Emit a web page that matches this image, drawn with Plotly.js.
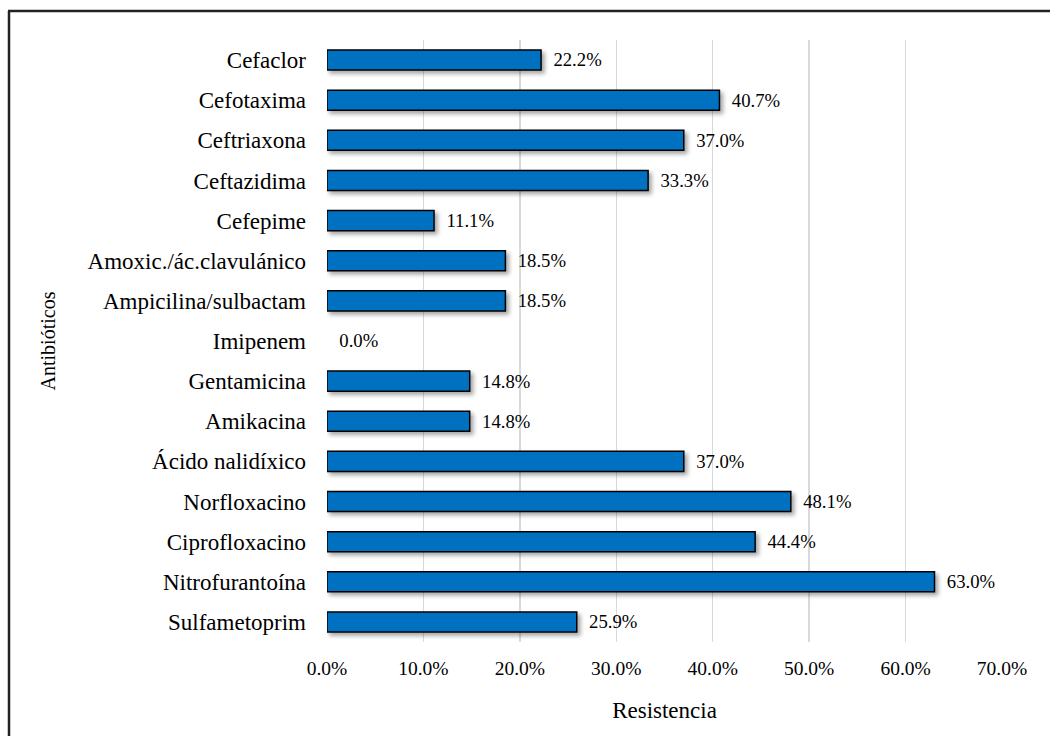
<!DOCTYPE html>
<html>
<head>
<meta charset="utf-8">
<script src="https://cdn.plot.ly/plotly-3.0.1.min.js"></script>
<style>
  html, body { margin: 0; padding: 0; background: #ffffff; }
  #chart { width: 1050px; height: 736px; }
  /* soft drop shadow under each bar */
  #chart .bars path { filter: drop-shadow(3px 3px 2px rgba(0,0,0,0.35)); }
</style>
</head>
<body>
<div id="chart"></div>
<script>
// Antibiotic resistance (share of isolates)
const antibiotics = [
  'Cefaclor', 'Cefotaxima', 'Ceftriaxona', 'Ceftazidima', 'Cefepime',
  'Amoxic./ác.clavulánico', 'Ampicilina/sulbactam', 'Imipenem',
  'Gentamicina', 'Amikacina', 'Ácido nalidíxico', 'Norfloxacino',
  'Ciprofloxacino', 'Nitrofurantoína', 'Sulfametoprim'
];
const resistance = [
  0.222, 0.407, 0.370, 0.333, 0.111,
  0.185, 0.185, 0.000,
  0.148, 0.148, 0.370, 0.481,
  0.444, 0.630, 0.259
];
const xTicks = [0, 0.1, 0.2, 0.3, 0.4, 0.5, 0.6, 0.7];

const W = 1050, H = 736;
const margin = { l: 327, r: 48, t: 40, b: 94, pad: 0 };
const plotW = W - margin.l - margin.r;
const plotH = H - margin.t - margin.b;
// frame line positions in pixels, converted to paper units
const px = x => (x - margin.l) / plotW;
const py = y => 1 - (y - margin.t) / plotH;

const serif = 'Liberation Serif';

const trace = {
  type: 'bar',
  orientation: 'h',
  y: antibiotics,
  x: resistance,
  width: 0.5,
  marker: {
    color: '#0070C0',
    // no outline on empty bars
    line: { color: '#000000', width: resistance.map(v => (v > 0 ? 1.5 : 0)) }
  },
  texttemplate: '\u00a0\u00a0%{x:.1%}',
  textposition: 'outside',
  cliponaxis: false,
  textfont: { family: serif, size: 20.5, color: '#000000' },
  hoverinfo: 'skip'
};

const layout = {
  width: W,
  height: H,
  margin: margin,
  paper_bgcolor: '#ffffff',
  plot_bgcolor: '#ffffff',
  showlegend: false,
  font: { family: serif, color: '#000000' },
  xaxis: {
    range: [0, 0.7],
    tickvals: xTicks,
    tickformat: '.1%',
    showgrid: true,
    gridcolor: '#d9d9d9',
    gridwidth: 1.5,
    zeroline: false,
    showline: false,
    ticks: '',
    tickfont: { family: serif, size: 19.5, color: '#000000' },
    ticklabelstandoff: 12,
    title: { text: 'Resistencia', font: { family: serif, size: 23, color: '#000000' }, standoff: 24 },
    fixedrange: true
  },
  yaxis: {
    type: 'category',
    autorange: 'reversed',
    showgrid: false,
    zeroline: false,
    showline: false,
    ticks: '',
    ticklabelstandoff: 20,
    tickfont: { family: serif, size: 23, color: '#000000' },
    title: { text: 'Antibióticos', font: { family: serif, size: 20, color: '#000000' }, standoff: 26 },
    fixedrange: true
  },
  shapes: [
    { type: 'line', xref: 'paper', yref: 'paper', x0: px(9), x1: px(9), y0: py(11), y1: py(H + 5),
      line: { color: '#222222', width: 2.5 } },
    { type: 'line', xref: 'paper', yref: 'paper', x0: px(8), x1: px(W + 5), y0: py(11), y1: py(11),
      line: { color: '#222222', width: 2.5 } }
  ]
};

Plotly.newPlot('chart', [trace], layout, { displayModeBar: false, staticPlot: true });
</script>
</body>
</html>
